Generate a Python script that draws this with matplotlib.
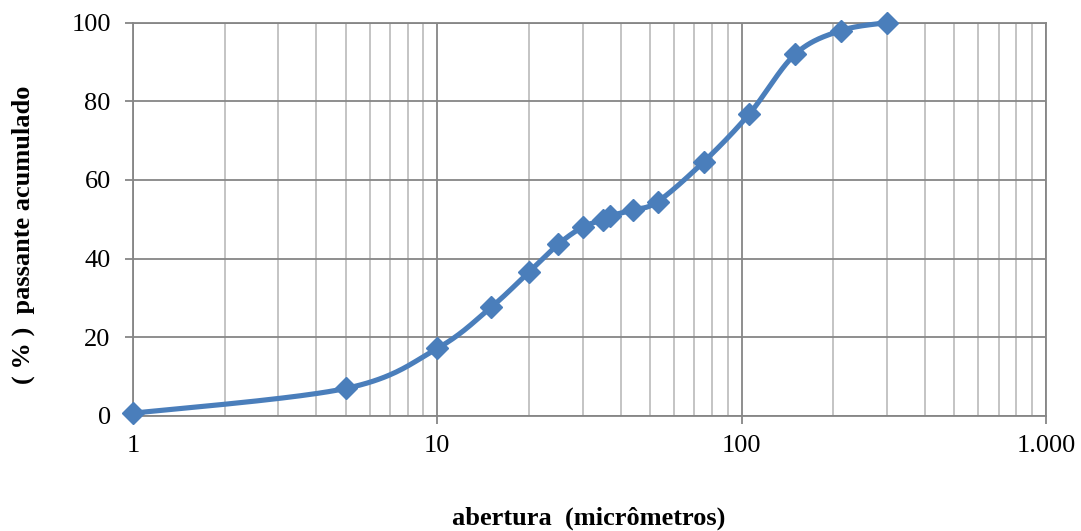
import numpy as np
import matplotlib
matplotlib.use("Agg")
import matplotlib.pyplot as plt
from matplotlib.ticker import FixedLocator, FixedFormatter, NullFormatter, LogLocator

# Particle size distribution: sieve opening (µm) vs cumulative % passing
abertura = [1, 5, 10, 15, 20, 25, 30, 35, 37, 44, 53, 75, 106, 150, 212, 300]
passante = [0.7, 7.0, 17.2, 27.6, 36.6, 43.7, 48.0, 49.9, 50.9, 52.4, 54.5,
            64.6, 76.8, 92.0, 98.0, 100.0]

x_ticks = [1, 10, 100, 1000]
x_tick_labels = ["1", "10", "100", "1.000"]
y_ticks = [0, 20, 40, 60, 80, 100]

plt.rcParams["font.family"] = ["Liberation Serif", "DejaVu Serif"]

fig = plt.figure(figsize=(10.81, 5.31), dpi=100)
ax = fig.add_axes([0.1230, 0.2166, 0.9676 - 0.1230, 0.9573 - 0.2166])

ax.set_xscale("log")
ax.set_xlim(1, 1000)
ax.set_ylim(0, 100)

major_grid = "#868686"
minor_grid = "#BFBFBF"

ax.xaxis.set_major_locator(FixedLocator(x_ticks))
ax.xaxis.set_major_formatter(FixedFormatter(x_tick_labels))
ax.xaxis.set_minor_locator(LogLocator(base=10, subs=np.arange(2, 10)))
ax.xaxis.set_minor_formatter(NullFormatter())
ax.set_yticks(y_ticks)

ax.grid(True, which="major", color=major_grid, linewidth=1.3)
ax.grid(True, which="minor", axis="x", color=minor_grid, linewidth=1.3)
ax.set_axisbelow(True)

for s in ax.spines.values():
    s.set_color(major_grid)
    s.set_linewidth(1.3)

ax.tick_params(axis="both", which="major", labelsize=19, color=major_grid,
               length=6, width=1.3, direction="out")
ax.tick_params(axis="x", which="major", pad=8)
ax.tick_params(axis="y", which="major", pad=10)
ax.tick_params(axis="x", which="minor", length=0)

# Smoothed curve: cubic Bezier segments (Catmull-Rom tangents) in display space
pts = ax.transData.transform(np.column_stack([abertura, passante]))
n = len(pts)
curve = []
t = np.linspace(0, 1, 40)[:, None]
for i in range(n - 1):
    p0 = pts[i - 1] if i > 0 else pts[i]
    p1 = pts[i]
    p2 = pts[i + 1]
    p3 = pts[i + 2] if i + 2 < n else pts[i + 1]
    c1 = p1 + (p2 - p0) / 6.0
    c2 = p2 - (p3 - p1) / 6.0
    seg = ((1 - t) ** 3) * p1 + 3 * ((1 - t) ** 2) * t * c1 \
        + 3 * (1 - t) * (t ** 2) * c2 + (t ** 3) * p2
    curve.append(seg if i == 0 else seg[1:])
curve = ax.transData.inverted().transform(np.vstack(curve))

line_color = "#4A7EBB"
ax.plot(curve[:, 0], curve[:, 1], color=line_color, linewidth=3.7,
        solid_capstyle="round", zorder=3, clip_on=False)
ax.plot(abertura, passante, linestyle="none", marker="D", markersize=11.5,
        color=line_color, markeredgecolor=line_color, markeredgewidth=1,
        zorder=4, clip_on=False)

fig.text(0.545, 0.023, "abertura  (micrômetros)", ha="center", va="center",
         fontsize=19, fontweight="bold")
fig.text(0.022, 0.557, "( % )  passante acumulado", ha="center", va="center",
         rotation=90, fontsize=19, fontweight="bold")

fig.savefig("out.png", dpi=100)
